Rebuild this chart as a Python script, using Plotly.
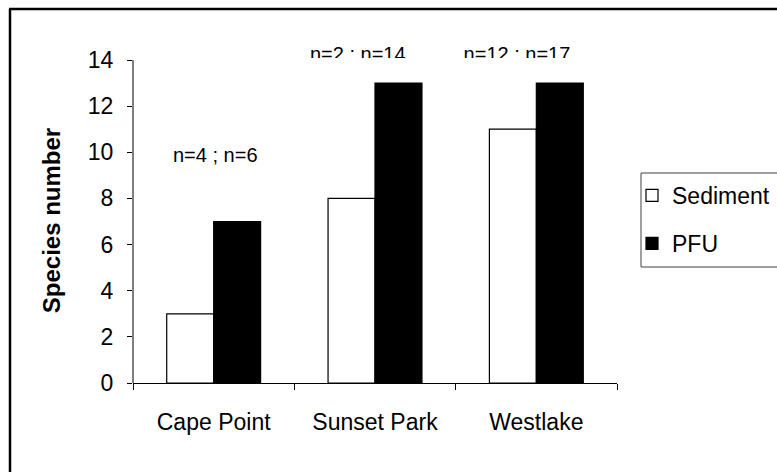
import plotly.graph_objects as go

# ---- data ----
sites = ["Cape Point", "Sunset Park", "Westlake"]
sediment = [3, 8, 11]
pfu = [7, 13, 13]
n_labels_low = ["n=4 ; n=6"]
n_labels_top = ["n=2 ; n=14", "n=12 ; n=17"]
y_ticks = [0, 2, 4, 6, 8, 10, 12, 14]

# ---- layout constants ----
W, H = 777, 472
L, R, T, B = 133, 160, 20, 89
PLOT_TOP = 58                        # pixel top of bar plot area
unit = (H - B - 60) / 14.0           # pixels per y unit (14 at y=60)
ytop = (H - B - PLOT_TOP) / unit
dom_split = (H - B - PLOT_TOP) / (H - B - T)
FONT = "Liberation Sans, Arial, sans-serif"
FS = 23

def px2paper_x(p):
    return (p - L) / (W - L - R)

def px2paper_y(p):
    return (H - B - p) / (H - B - T)

def px2top(p):  # pixel -> value on the strip above the plot (range 0..1)
    return (PLOT_TOP - p) / (PLOT_TOP - T)

fig = go.Figure()
fig.add_trace(go.Bar(
    name="Sediment", x=sites, y=sediment,
    marker=dict(color="white", line=dict(color="black", width=1.2)),
    legendgroup="a",
))
fig.add_trace(go.Bar(
    name="PFU", x=sites, y=pfu,
    marker=dict(color="black", line=dict(color="black", width=1.2)),
    legendgroup="b",
))
# label inside the plot
fig.add_trace(go.Scatter(
    x=[0.01], y=[9.8], text=n_labels_low, mode="text",
    textfont=dict(family=FONT, size=20, color="black"),
    xaxis="x2", yaxis="y", showlegend=False, cliponaxis=False,
    hoverinfo="skip",
))
# labels above the plot, cut at the plot's top edge
fig.add_trace(go.Scatter(
    x=[0.893, 1.88], y=[px2top(55.5), px2top(55.5)], text=n_labels_top, mode="text",
    textfont=dict(family=FONT, size=20, color="black"),
    xaxis="x3", yaxis="y2", showlegend=False, cliponaxis=True,
    hoverinfo="skip",
))

shapes = [
    dict(type="line", xref="paper", yref="y", x0=0, x1=0, y0=0, y1=14,
         line=dict(color="black", width=1)),
    dict(type="line", xref="paper", yref="paper",
         x0=px2paper_x(10), x1=px2paper_x(10), y0=px2paper_y(480), y1=px2paper_y(9),
         line=dict(color="black", width=2.5)),
    dict(type="line", xref="paper", yref="paper",
         x0=px2paper_x(9), x1=px2paper_x(790), y0=px2paper_y(9), y1=px2paper_y(9),
         line=dict(color="black", width=2.5)),
    dict(type="rect", xref="paper", yref="paper",
         x0=px2paper_x(641), x1=px2paper_x(800), y0=px2paper_y(267), y1=px2paper_y(173),
         line=dict(color="#404040", width=1), fillcolor="rgba(0,0,0,0)", layer="below"),
]

fig.update_layout(
    width=W, height=H,
    margin=dict(l=L, r=R, t=T, b=B, autoexpand=False),
    paper_bgcolor="white", plot_bgcolor="white",
    barmode="group", bargap=0.418, bargroupgap=0,
    font=dict(family=FONT, size=FS, color="black"),
    shapes=shapes,
    legend=dict(
        x=px2paper_x(632), y=px2paper_y(174), xanchor="left", yanchor="top",
        borderwidth=0, bgcolor="rgba(0,0,0,0)",
        font=dict(family=FONT, size=FS, color="black"),
        traceorder="grouped", tracegroupgap=15,
    ),
    xaxis=dict(
        type="category", showline=True, linecolor="black", linewidth=1,
        ticks="outside", ticklen=6, tickcolor="black", tickson="boundaries",
        ticklabelstandoff=18, showgrid=False, zeroline=False,
        tickfont=dict(family=FONT, size=FS),
    ),
    xaxis2=dict(overlaying="x", range=[-0.5, 2.5], visible=False, matches=None),
    xaxis3=dict(anchor="y2", domain=[0, 1], range=[-0.5, 2.5], visible=False),
    yaxis=dict(
        domain=[0, dom_split],
        range=[0, ytop], tickvals=y_ticks, showline=False,
        ticks="outside", ticklen=5, tickcolor="black", ticklabelstandoff=9,
        showgrid=False, zeroline=False,
        tickfont=dict(family=FONT, size=FS),
        title=dict(text="<b>Species number</b>", standoff=20,
                   font=dict(family=FONT, size=24)),
    ),
    yaxis2=dict(anchor="x3", domain=[dom_split, 1], range=[0, 1], visible=False),
    showlegend=True,
)

fig.write_html("out.html")
